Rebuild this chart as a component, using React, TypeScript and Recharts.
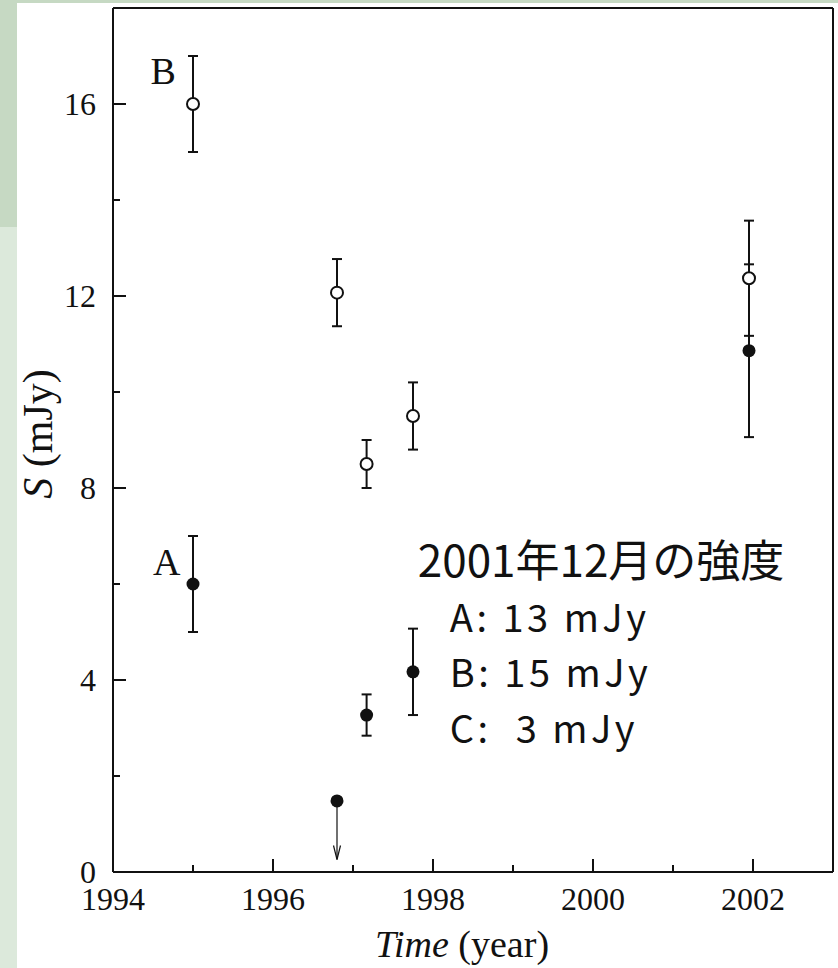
import { ScatterChart, Scatter, XAxis, YAxis, ErrorBar, ReferenceDot, Label } from "recharts";

const years = [1994, 1995, 1996, 1997, 1998, 1999, 2000, 2001, 2002, 2003];
const yearLabels = [1994, 1996, 1998, 2000, 2002];
const fluxTicks = [0, 2, 4, 6, 8, 10, 12, 14, 16, 18];
const fluxLabels = [0, 4, 8, 12, 16];

const epochs = [1995.0, 1996.8, 1997.17, 1997.75, 2001.95];
const fluxA = [6.0, 1.48, 3.27, 4.17, 10.86];
const errA = [1.0, 0, 0.43, 0.9, 1.8];
const fluxB = [16.0, 12.07, 8.5, 9.5, 12.37];
const errB = [1.0, 0.7, 0.5, 0.7, 1.2];

// upper limit on A (late 1996): marker value down to arrow tip
const limitT = [1996.8, 1996.8];
const limitS = [1.48, 0.26];

const sourceLabels = [
  { text: "B", t: 1994.47, s: 16.42 },
  { text: "A", t: 1994.5, s: 6.19 },
];

const noteAt = { t: 1997.81, s: 6.15 };
const noteLines = ["2001年12月の強度", "A: 13 mJy", "B: 15 mJy", "C:  3 mJy"];

const serif = '"Liberation Serif", "Times New Roman", serif';
const gothic = '"Noto Sans CJK JP", "Noto Sans", sans-serif';
const ink = "#111";

const dataA = epochs.map((t, i) => ({ t, s: fluxA[i], e: errA[i] }));
const dataB = epochs.map((t, i) => ({ t, s: fluxB[i], e: errB[i] }));
const dataLimit = limitT.map((t, i) => ({ t, s: limitS[i], tip: i === 1 }));

const tickLen = (major: boolean) => (major ? 13 : 7);

function BottomTick({ x, y, payload }: any) {
  const v = payload.value;
  return (
    <g>
      <line x1={x} y1={y} x2={x} y2={y - tickLen(v % 2 === 0)} stroke={ink} strokeWidth={2} />
      {yearLabels.includes(v) && (
        <text x={x} y={y + 38} textAnchor="middle" fontFamily={serif} fontSize={32} fill={ink}>
          {v}
        </text>
      )}
    </g>
  );
}

function TopTick({ x, y, payload }: any) {
  const v = payload.value;
  return <line x1={x} y1={y} x2={x} y2={y + tickLen(v % 2 === 0)} stroke={ink} strokeWidth={2} />;
}

function LeftTick({ x, y, payload }: any) {
  const v = payload.value;
  return (
    <g>
      <line x1={x} y1={y} x2={x + tickLen(v % 4 === 0)} y2={y} stroke={ink} strokeWidth={2} />
      {fluxLabels.includes(v) && (
        <text x={x - 17} y={y + 11} textAnchor="end" fontFamily={serif} fontSize={32} fill={ink}>
          {v}
        </text>
      )}
    </g>
  );
}

function RightTick({ x, y, payload }: any) {
  const v = payload.value;
  return <line x1={x} y1={y} x2={x - tickLen(v % 4 === 0)} y2={y} stroke={ink} strokeWidth={2} />;
}

const openDot = (p: any) => (
  <circle cx={p.cx} cy={p.cy} r={6} fill="#fff" stroke={ink} strokeWidth={2} />
);
const filledDot = (p: any) => <circle cx={p.cx} cy={p.cy} r={6.5} fill={ink} />;
const arrowHead = (p: any) =>
  p.payload.tip ? (
    <polyline
      points={`${p.cx - 3.5},${p.cy - 14} ${p.cx},${p.cy} ${p.cx + 3.5},${p.cy - 14}`}
      fill="none"
      stroke={ink}
      strokeWidth={1.2}
    />
  ) : (
    <g />
  );

export default function App() {
  return (
    <div style={{ position: "absolute", left: 0, top: 0, width: 838, height: 968, background: "#fff" }}>
      <div style={{ position: "absolute", left: 0, top: 0, width: 838, height: 3, background: "#c6d9c3" }} />
      <div style={{ position: "absolute", left: 0, top: 0, width: 17, height: 227, background: "#c6d9c3" }} />
      <div style={{ position: "absolute", left: 0, top: 227, width: 17, height: 741, background: "#dce9db" }} />
      <ScatterChart
        width={838}
        height={968}
        margin={{ top: 7, right: 4, bottom: 36, left: 17 }}
        style={{ position: "absolute", left: 0, top: 0 }}
      >
        <XAxis
          xAxisId={0}
          dataKey="t"
          type="number"
          domain={[1994, 2003]}
          ticks={years}
          interval={0}
          height={60}
          tickSize={0}
          tickMargin={0}
          tickLine={false}
          axisLine={{ stroke: ink, strokeWidth: 2 }}
          tick={(p: any) => <BottomTick {...p} />}
        >
          <Label
            content={(p: any) => {
              const vb = p.viewBox;
              return (
                <text x={vb.x + vb.width / 2 - 11} y={vb.y + 85} textAnchor="middle" fontFamily={serif} fontSize={38} fill={ink}>
                  <tspan fontStyle="italic">Time</tspan> (year)
                </text>
              );
            }}
          />
        </XAxis>
        <XAxis
          xAxisId="top"
          orientation="top"
          dataKey="t"
          type="number"
          domain={[1994, 2003]}
          ticks={years}
          interval={0}
          height={1}
          tickSize={0}
          tickMargin={0}
          tickLine={false}
          axisLine={{ stroke: ink, strokeWidth: 2 }}
          tick={(p: any) => <TopTick {...p} />}
        />
        <YAxis
          yAxisId={0}
          dataKey="s"
          type="number"
          domain={[0, 18]}
          ticks={fluxTicks}
          interval={0}
          width={96}
          tickSize={0}
          tickMargin={0}
          tickLine={false}
          axisLine={{ stroke: ink, strokeWidth: 2 }}
          tick={(p: any) => <LeftTick {...p} />}
        >
          <Label
            content={(p: any) => {
              const vb = p.viewBox;
              const x = vb.x + 35;
              const y = vb.y + vb.height / 2 - 6;
              return (
                <text x={x} y={y} transform={`rotate(-90, ${x}, ${y})`} textAnchor="middle" fontFamily={serif} fontSize={42} fill={ink}>
                  <tspan fontStyle="italic">S</tspan> (mJy)
                </text>
              );
            }}
          />
        </YAxis>
        <YAxis
          yAxisId="right"
          orientation="right"
          dataKey="s"
          type="number"
          domain={[0, 18]}
          ticks={fluxTicks}
          interval={0}
          width={1}
          tickSize={0}
          tickMargin={0}
          tickLine={false}
          axisLine={{ stroke: ink, strokeWidth: 2 }}
          tick={(p: any) => <RightTick {...p} />}
        />

        <Scatter
          data={dataLimit}
          dataKey="s"
          isAnimationActive={false}
          line={{ stroke: ink, strokeWidth: 1.2 }}
          shape={arrowHead}
        />
        <Scatter data={dataA} dataKey="s" isAnimationActive={false} shape={filledDot}>
          <ErrorBar dataKey="e" direction="y" width={5} stroke={ink} strokeWidth={2} isAnimationActive={false} />
        </Scatter>
        <Scatter data={dataB} dataKey="s" isAnimationActive={false} shape={openDot}>
          <ErrorBar dataKey="e" direction="y" width={5} stroke={ink} strokeWidth={2} isAnimationActive={false} />
        </Scatter>

        {sourceLabels.map((l) => (
          <ReferenceDot
            key={l.text}
            x={l.t}
            y={l.s}
            shape={(p: any) => (
              <text x={p.cx} y={p.cy} fontFamily={serif} fontSize={38} fill={ink}>
                {l.text}
              </text>
            )}
          />
        ))}
        <ReferenceDot
          x={noteAt.t}
          y={noteAt.s}
          shape={(p: any) => (
            <g fontFamily={gothic} fill={ink}>
              <text x={p.cx} y={p.cy} fontSize={44}>
                {noteLines[0]}
              </text>
              {noteLines.slice(1).map((line, i) => (
                <text
                  key={line}
                  x={p.cx + 32}
                  y={p.cy + 55 + i * 55.5}
                  fontSize={38}
                  letterSpacing={3.5}
                  style={{ whiteSpace: "pre" }}
                >
                  {line}
                </text>
              ))}
            </g>
          )}
        />
      </ScatterChart>
    </div>
  );
}
